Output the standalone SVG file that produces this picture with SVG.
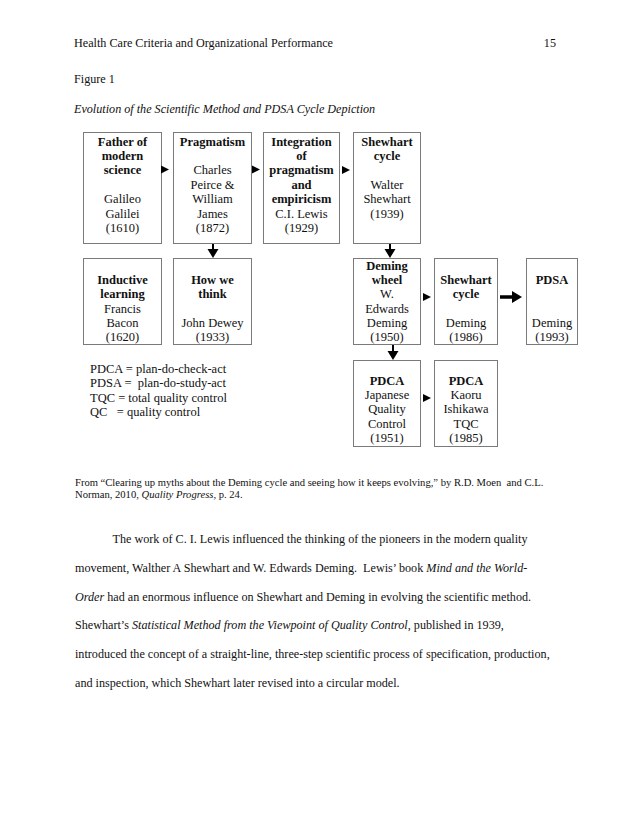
<svg xmlns="http://www.w3.org/2000/svg" width="638" height="826" viewBox="0 0 638 826">
<style>
text{font-family:"Liberation Serif","Times New Roman",serif;font-size:12.5px;fill:#111;white-space:pre;}
.c{text-anchor:middle;}
.b{font-weight:bold;}
.i{font-style:italic;}
.sm{font-size:10.6px;}
.pg{font-size:12.15px;}
.box{fill:#fff;stroke:#7a7a7a;stroke-width:1;}
.tri{fill:#000;}
.shaft{stroke:#000;stroke-width:2;fill:none;}
</style>
<rect width="638" height="826" fill="#fff"/>

<text class="pg" x="74" y="47">Health Care Criteria and Organizational Performance</text>
<text class="pg" x="556" y="47" text-anchor="end">15</text>
<text class="pg" x="74" y="83">Figure 1</text>
<text class="pg i" x="74" y="113">Evolution of the Scientific Method and PDSA Cycle Depiction</text>

<g id="node-father">
<rect class="box" x="83.5" y="132.5" width="78" height="111"/>
<text class="c b" x="122.5" y="145.5">Father of</text>
<text class="c b" x="122.5" y="159.9">modern</text>
<text class="c b" x="122.5" y="174.3">science</text>
<text class="c" x="122.5" y="203.1">Galileo</text>
<text class="c" x="122.5" y="217.5">Galilei</text>
<text class="c" x="122.5" y="231.9">(1610)</text>
</g>
<g id="node-pragmatism">
<rect class="box" x="173.5" y="132.5" width="78" height="111"/>
<text class="c b" x="212.5" y="145.5">Pragmatism</text>
<text class="c" x="212.5" y="174.3">Charles</text>
<text class="c" x="212.5" y="188.7">Peirce &amp;</text>
<text class="c" x="212.5" y="203.1">William</text>
<text class="c" x="212.5" y="217.5">James</text>
<text class="c" x="212.5" y="231.9">(1872)</text>
</g>
<g id="node-integration">
<rect class="box" x="263.5" y="132.5" width="76" height="111"/>
<text class="c b" x="301.5" y="145.5">Integration</text>
<text class="c b" x="301.5" y="159.9">of</text>
<text class="c b" x="301.5" y="174.3">pragmatism</text>
<text class="c b" x="301.5" y="188.7">and</text>
<text class="c b" x="301.5" y="203.1">empiricism</text>
<text class="c" x="301.5" y="217.5">C.I. Lewis</text>
<text class="c" x="301.5" y="231.9">(1929)</text>
</g>
<g id="node-shewhart-1939">
<rect class="box" x="353.5" y="132.5" width="67" height="111"/>
<text class="c b" x="387" y="145.5">Shewhart</text>
<text class="c b" x="387" y="159.9">cycle</text>
<text class="c" x="387" y="188.7">Walter</text>
<text class="c" x="387" y="203.1">Shewhart</text>
<text class="c" x="387" y="217.5">(1939)</text>
</g>

<g id="node-inductive">
<rect class="box" x="83.5" y="258.5" width="78" height="86"/>
<text class="c b" x="122.5" y="284.2">Inductive</text>
<text class="c b" x="122.5" y="298.4">learning</text>
<text class="c" x="122.5" y="312.6">Francis</text>
<text class="c" x="122.5" y="326.8">Bacon</text>
<text class="c" x="122.5" y="341">(1620)</text>
</g>
<g id="node-howwethink">
<rect class="box" x="173.5" y="258.5" width="78" height="86"/>
<text class="c b" x="212.5" y="284.2">How we</text>
<text class="c b" x="212.5" y="298.4">think</text>
<text class="c" x="212.5" y="326.8">John Dewey</text>
<text class="c" x="212.5" y="341">(1933)</text>
</g>
<g id="node-deming-wheel">
<rect class="box" x="353.5" y="258.5" width="67" height="86"/>
<text class="c b" x="387" y="270">Deming</text>
<text class="c b" x="387" y="284.2">wheel</text>
<text class="c" x="387" y="298.4">W.</text>
<text class="c" x="387" y="312.6">Edwards</text>
<text class="c" x="387" y="326.8">Deming</text>
<text class="c" x="387" y="341">(1950)</text>
</g>
<g id="node-shewhart-1986">
<rect class="box" x="434.5" y="258.5" width="63" height="86"/>
<text class="c b" x="466" y="284.2">Shewhart</text>
<text class="c b" x="466" y="298.4">cycle</text>
<text class="c" x="466" y="326.8">Deming</text>
<text class="c" x="466" y="341">(1986)</text>
</g>
<g id="node-pdsa">
<rect class="box" x="526.5" y="258.5" width="51" height="86"/>
<text class="c b" x="552" y="284.2">PDSA</text>
<text class="c" x="552" y="326.8">Deming</text>
<text class="c" x="552" y="341">(1993)</text>
</g>
<g id="node-pdca-1951">
<rect class="box" x="353.5" y="360.5" width="67" height="86"/>
<text class="c b" x="387" y="385">PDCA</text>
<text class="c" x="387" y="399.2">Japanese</text>
<text class="c" x="387" y="413.4">Quality</text>
<text class="c" x="387" y="427.6">Control</text>
<text class="c" x="387" y="441.8">(1951)</text>
</g>
<g id="node-pdca-1985">
<rect class="box" x="434.5" y="360.5" width="63" height="86"/>
<text class="c b" x="466" y="385">PDCA</text>
<text class="c" x="466" y="399.2">Kaoru</text>
<text class="c" x="466" y="413.4">Ishikawa</text>
<text class="c" x="466" y="427.6">TQC</text>
<text class="c" x="466" y="441.8">(1985)</text>
</g>

<g id="connectors">
<path class="tri" d="M161,165.5 L169,169.5 L161,173.5 Z"/>
<path class="tri" d="M252,165.5 L260,169.5 L252,173.5 Z"/>
<path class="tri" d="M342,166 L350,170 L342,174 Z"/>
<line class="shaft" x1="213" y1="244" x2="213" y2="250"/>
<path class="tri" d="M207.5,249 L218.5,249 L213,258 Z"/>
<line class="shaft" x1="390" y1="244" x2="390" y2="250"/>
<path class="tri" d="M384.5,249 L395.5,249 L390,258 Z"/>
<line class="shaft" x1="393" y1="345" x2="393" y2="352"/>
<path class="tri" d="M387.5,351 L398.5,351 L393,360 Z"/>
<path class="tri" d="M423,293 L431,297 L423,301 Z"/>
<line x1="500" y1="297" x2="513" y2="297" stroke="#000" stroke-width="3.5"/>
<path class="tri" d="M512,291 L522,297 L512,303 Z"/>
<path class="tri" d="M423,394 L431,398 L423,402 Z"/>
</g>

<g id="legend">
<text x="90" y="373">PDCA = plan-do-check-act</text>
<text x="90" y="387.4">PDSA =  plan-do-study-act</text>
<text x="90" y="401.8">TQC = total quality control</text>
<text x="90" y="416.2">QC   = quality control</text>
</g>

<g id="citation">
<text class="sm" x="75" y="486">From “Clearing up myths about the Deming cycle and seeing how it keeps evolving,” by R.D. Moen  and C.L.</text>
<text class="sm" x="75" y="497.5">Norman, 2010, <tspan class="i">Quality Progress</tspan>, p. 24.</text>
</g>

<g id="body">
<text class="pg" x="112.5" y="543">The work of C. I. Lewis influenced the thinking of the pioneers in the modern quality</text>
<text class="pg" x="75" y="571.75">movement, Walther A Shewhart and W. Edwards Deming.  Lewis’ book <tspan class="i">Mind and the World-</tspan></text>
<text class="pg" x="75" y="600.5"><tspan class="i">Order</tspan> had an enormous influence on Shewhart and Deming in evolving the scientific method.</text>
<text class="pg" x="75" y="629.25">Shewhart’s <tspan class="i">Statistical Method from the Viewpoint of Quality Control</tspan>, published in 1939,</text>
<text class="pg" x="75" y="658">introduced the concept of a straight-line, three-step scientific process of specification, production,</text>
<text class="pg" x="75" y="686.75">and inspection, which Shewhart later revised into a circular model.</text>
</g>
</svg>
